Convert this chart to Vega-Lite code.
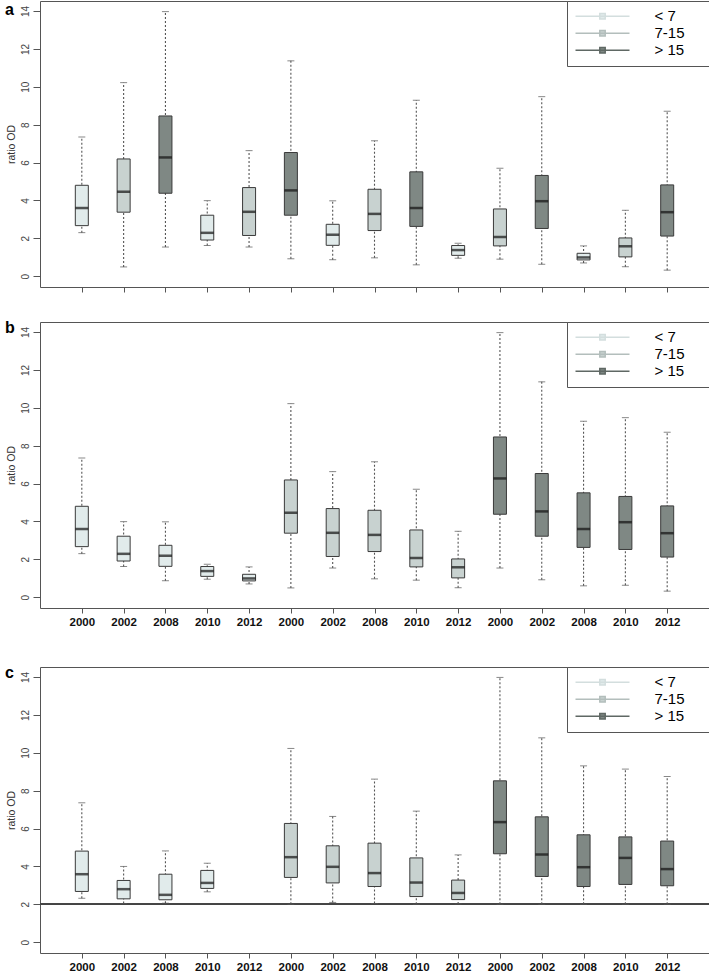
{
  "$schema": "https://vega.github.io/schema/vega-lite/v6.json",
  "background": "white",
  "padding": {"left": 4, "top": 0, "right": 0, "bottom": 0},
  "config": {
    "font": "Liberation Sans",
    "view": {"stroke": "#555", "strokeWidth": 1},
    "axisY": {"values": [0, 2, 4, 6, 8, 10, 12, 14], "domain": false, "grid": false, "tickSize": 7, "tickColor": "#555", "labelAngle": -90, "labelAlign": "center", "labelBaseline": "bottom", "labelPadding": 3, "labelFontSize": 10, "labelColor": "#444", "titleFontSize": 10.5, "titleFontWeight": "normal", "titleColor": "#333", "titlePadding": 4},
    "axisX": {"domain": false, "grid": false, "tickSize": 5, "tickColor": "#555", "labelFontSize": 11.5, "labelFontWeight": "bold", "labelColor": "#111", "labelPadding": 3, "labelAngle": 0},
    "title": {"anchor": "start", "frame": "group", "fontSize": 16, "fontWeight": "bold", "color": "#000", "baseline": "top", "dx": -35},
    "legend": {"orient": "top-right", "offset": 0, "strokeColor": "#555", "fillColor": "white", "padding": 7.5, "symbolType": "M-1,0L1,0M-0.1,-0.1L0.1,-0.1L0.1,0.1L-0.1,0.1Z", "symbolSize": 2916, "symbolStrokeWidth": 1.5, "labelFontSize": 15, "labelColor": "#000", "labelOffset": 24, "clipHeight": 15.5, "rowPadding": 1, "titleOrient": "right", "titleFontSize": 9, "titleColor": "transparent", "titleOpacity": 0, "titlePadding": 2}
  },
  "datasets": {
    "ab": [
      {"group": "< 7", "year": "2000", "lo": 2.3, "q1": 2.67, "med": 3.6, "q3": 4.8, "hi": 7.35},
      {"group": "< 7", "year": "2002", "lo": 1.62, "q1": 1.91, "med": 2.29, "q3": 3.22, "hi": 3.99},
      {"group": "< 7", "year": "2008", "lo": 0.87, "q1": 1.63, "med": 2.19, "q3": 2.74, "hi": 3.98},
      {"group": "< 7", "year": "2010", "lo": 0.95, "q1": 1.1, "med": 1.38, "q3": 1.62, "hi": 1.74},
      {"group": "< 7", "year": "2012", "lo": 0.7, "q1": 0.86, "med": 0.99, "q3": 1.21, "hi": 1.6},
      {"group": "7-15", "year": "2000", "lo": 0.49, "q1": 3.38, "med": 4.46, "q3": 6.19, "hi": 10.22},
      {"group": "7-15", "year": "2002", "lo": 1.54, "q1": 2.15, "med": 3.4, "q3": 4.68, "hi": 6.63},
      {"group": "7-15", "year": "2008", "lo": 0.97, "q1": 2.41, "med": 3.29, "q3": 4.59, "hi": 7.15},
      {"group": "7-15", "year": "2010", "lo": 0.9, "q1": 1.6, "med": 2.07, "q3": 3.55, "hi": 5.7},
      {"group": "7-15", "year": "2012", "lo": 0.5, "q1": 1.02, "med": 1.58, "q3": 2.02, "hi": 3.48},
      {"group": "> 15", "year": "2000", "lo": 1.54, "q1": 4.38, "med": 6.27, "q3": 8.46, "hi": 13.97},
      {"group": "> 15", "year": "2002", "lo": 0.92, "q1": 3.22, "med": 4.53, "q3": 6.53, "hi": 11.37},
      {"group": "> 15", "year": "2008", "lo": 0.6, "q1": 2.63, "med": 3.6, "q3": 5.51, "hi": 9.29},
      {"group": "> 15", "year": "2010", "lo": 0.63, "q1": 2.52, "med": 3.96, "q3": 5.32, "hi": 9.48},
      {"group": "> 15", "year": "2012", "lo": 0.32, "q1": 2.12, "med": 3.38, "q3": 4.82, "hi": 8.71}
    ],
    "c": [
      {"group": "< 7", "year": "2000", "lo": 2.32, "q1": 2.68, "med": 3.59, "q3": 4.81, "hi": 7.36},
      {"group": "< 7", "year": "2002", "lo": 2.04, "q1": 2.29, "med": 2.8, "q3": 3.26, "hi": 4.0},
      {"group": "< 7", "year": "2008", "lo": 2.06, "q1": 2.24, "med": 2.5, "q3": 3.59, "hi": 4.82},
      {"group": "< 7", "year": "2010", "lo": 2.66, "q1": 2.84, "med": 3.13, "q3": 3.79, "hi": 4.17},
      {"group": "7-15", "year": "2000", "lo": 2.0, "q1": 3.42, "med": 4.49, "q3": 6.27, "hi": 10.23},
      {"group": "7-15", "year": "2002", "lo": 2.1, "q1": 3.13, "med": 3.98, "q3": 5.09, "hi": 6.64},
      {"group": "7-15", "year": "2008", "lo": 2.04, "q1": 2.94, "med": 3.65, "q3": 5.23, "hi": 8.61},
      {"group": "7-15", "year": "2010", "lo": 2.0, "q1": 2.41, "med": 3.15, "q3": 4.45, "hi": 6.92},
      {"group": "7-15", "year": "2012", "lo": 2.02, "q1": 2.25, "med": 2.6, "q3": 3.28, "hi": 4.61},
      {"group": "> 15", "year": "2000", "lo": 2.0, "q1": 4.67, "med": 6.34, "q3": 8.52, "hi": 13.98},
      {"group": "> 15", "year": "2002", "lo": 2.0, "q1": 3.47, "med": 4.63, "q3": 6.62, "hi": 10.79},
      {"group": "> 15", "year": "2008", "lo": 2.0, "q1": 2.94, "med": 3.96, "q3": 5.67, "hi": 9.31},
      {"group": "> 15", "year": "2010", "lo": 2.0, "q1": 3.05, "med": 4.45, "q3": 5.56, "hi": 9.14},
      {"group": "> 15", "year": "2012", "lo": 2.0, "q1": 2.98, "med": 3.86, "q3": 5.34, "hi": 8.75}
    ]
  },
  "resolve": {"scale": {"x": "independent", "fill": "independent", "stroke": "independent"}, "legend": {"fill": "independent", "stroke": "independent"}},
  "spacing": 36,
  "vconcat": [
    {
      "resolve": {"scale": {"x": "independent", "fill": "independent", "stroke": "independent"}, "legend": {"fill": "independent", "stroke": "independent"}},
      "spacing": 26,
      "vconcat": [
        {
          "width": 669, "height": 286,
          "title": {"text": "a", "offset": -17},
          "data": {"name": "ab"},
          "transform": [{"calculate": "datum.year + '_' + datum.group", "as": "key"}],
          "encoding": {
            "x": {"field": "key", "type": "nominal", "title": null,
              "scale": {"type": "point", "padding": 1.09, "domain": ["2000_< 7", "2000_7-15", "2000_> 15", "2002_< 7", "2002_7-15", "2002_> 15", "2008_< 7", "2008_7-15", "2008_> 15", "2010_< 7", "2010_7-15", "2010_> 15", "2012_< 7", "2012_7-15", "2012_> 15"]},
              "axis": {"labels": false}}
          },
          "layer": [
            {"mark": {"type": "rule", "strokeDash": [2, 2], "color": "#555", "strokeWidth": 1.1},
             "encoding": {"y": {"field": "lo", "type": "quantitative", "title": "ratio OD", "scale": {"domain": [-0.57, 14.53], "nice": false, "zero": false}}, "y2": {"field": "hi"}}},
            {"mark": {"type": "tick", "color": "#555", "size": 7, "thickness": 1},
             "encoding": {"y": {"field": "lo", "type": "quantitative", "title": "ratio OD", "scale": {"domain": [-0.57, 14.53], "nice": false, "zero": false}}}},
            {"mark": {"type": "tick", "color": "#555", "size": 7, "thickness": 1},
             "encoding": {"y": {"field": "hi", "type": "quantitative", "title": "ratio OD", "scale": {"domain": [-0.57, 14.53], "nice": false, "zero": false}}}},
            {"mark": {"type": "bar", "size": 13, "strokeWidth": 0},
             "encoding": {"y": {"field": "q1", "type": "quantitative", "title": "ratio OD", "scale": {"domain": [-0.57, 14.53], "nice": false, "zero": false}}, "y2": {"field": "q3"},
               "fill": {"field": "group", "type": "nominal", "title": "MM", "scale": {"domain": ["< 7", "7-15", "> 15"], "range": ["#e1ebeb", "#c8d2d0", "#7f8884"]}}}},
            {"mark": {"type": "rule", "strokeWidth": 1.5},
             "encoding": {"y": {"field": "hi", "type": "quantitative", "title": "ratio OD", "scale": {"domain": [-0.57, 14.53], "nice": false, "zero": false}}, "y2": {"field": "hi"},
               "stroke": {"field": "group", "type": "nominal", "title": "MM", "scale": {"domain": ["< 7", "7-15", "> 15"], "range": ["#d3dede", "#b3bebc", "#5f6864"]}}}},
            {"mark": {"type": "bar", "size": 13, "fill": "transparent", "stroke": "#3a3a3a", "strokeWidth": 1},
             "encoding": {"y": {"field": "q1", "type": "quantitative", "title": "ratio OD", "scale": {"domain": [-0.57, 14.53], "nice": false, "zero": false}}, "y2": {"field": "q3"}}},
            {"mark": {"type": "tick", "color": "#111", "size": 13, "thickness": 2.5},
             "encoding": {"y": {"field": "med", "type": "quantitative", "title": "ratio OD", "scale": {"domain": [-0.57, 14.53], "nice": false, "zero": false}}}}
          ]
        },
        {
          "width": 669, "height": 286,
          "title": {"text": "b", "offset": -14},
          "data": {"name": "ab"},
          "transform": [{"calculate": "datum.group + '_' + datum.year", "as": "key"}],
          "encoding": {
            "x": {"field": "key", "type": "nominal", "title": null,
              "scale": {"type": "point", "padding": 1.09, "domain": ["< 7_2000", "< 7_2002", "< 7_2008", "< 7_2010", "< 7_2012", "7-15_2000", "7-15_2002", "7-15_2008", "7-15_2010", "7-15_2012", "> 15_2000", "> 15_2002", "> 15_2008", "> 15_2010", "> 15_2012"]},
              "axis": {"labelExpr": "split(datum.label, '_')[1]"}}
          },
          "layer": [
            {"mark": {"type": "rule", "strokeDash": [2, 2], "color": "#555", "strokeWidth": 1.1},
             "encoding": {"y": {"field": "lo", "type": "quantitative", "title": "ratio OD", "scale": {"domain": [-0.57, 14.53], "nice": false, "zero": false}}, "y2": {"field": "hi"}}},
            {"mark": {"type": "tick", "color": "#555", "size": 7, "thickness": 1},
             "encoding": {"y": {"field": "lo", "type": "quantitative", "title": "ratio OD", "scale": {"domain": [-0.57, 14.53], "nice": false, "zero": false}}}},
            {"mark": {"type": "tick", "color": "#555", "size": 7, "thickness": 1},
             "encoding": {"y": {"field": "hi", "type": "quantitative", "title": "ratio OD", "scale": {"domain": [-0.57, 14.53], "nice": false, "zero": false}}}},
            {"mark": {"type": "bar", "size": 13, "strokeWidth": 0},
             "encoding": {"y": {"field": "q1", "type": "quantitative", "title": "ratio OD", "scale": {"domain": [-0.57, 14.53], "nice": false, "zero": false}}, "y2": {"field": "q3"},
               "fill": {"field": "group", "type": "nominal", "title": "MM", "scale": {"domain": ["< 7", "7-15", "> 15"], "range": ["#e1ebeb", "#c8d2d0", "#7f8884"]}}}},
            {"mark": {"type": "rule", "strokeWidth": 1.5},
             "encoding": {"y": {"field": "hi", "type": "quantitative", "title": "ratio OD", "scale": {"domain": [-0.57, 14.53], "nice": false, "zero": false}}, "y2": {"field": "hi"},
               "stroke": {"field": "group", "type": "nominal", "title": "MM", "scale": {"domain": ["< 7", "7-15", "> 15"], "range": ["#d3dede", "#b3bebc", "#5f6864"]}}}},
            {"mark": {"type": "bar", "size": 13, "fill": "transparent", "stroke": "#3a3a3a", "strokeWidth": 1},
             "encoding": {"y": {"field": "q1", "type": "quantitative", "title": "ratio OD", "scale": {"domain": [-0.57, 14.53], "nice": false, "zero": false}}, "y2": {"field": "q3"}}},
            {"mark": {"type": "tick", "color": "#111", "size": 13, "thickness": 2.5},
             "encoding": {"y": {"field": "med", "type": "quantitative", "title": "ratio OD", "scale": {"domain": [-0.57, 14.53], "nice": false, "zero": false}}}}
          ]
        }
      ]
    },
    {
      "width": 669, "height": 286,
      "title": {"text": "c", "offset": -14},
      "data": {"name": "c"},
      "transform": [{"calculate": "datum.group + '_' + datum.year", "as": "key"}],
      "layer": [
        {"mark": {"type": "rule", "color": "#444", "strokeWidth": 1.2},
         "encoding": {"y": {"datum": 2, "type": "quantitative", "title": "ratio OD", "scale": {"domain": [-0.57, 14.53], "nice": false, "zero": false}}}},
        {
          "encoding": {
            "x": {"field": "key", "type": "nominal", "title": null,
              "scale": {"type": "point", "padding": 1.09, "domain": ["< 7_2000", "< 7_2002", "< 7_2008", "< 7_2010", "< 7_2012", "7-15_2000", "7-15_2002", "7-15_2008", "7-15_2010", "7-15_2012", "> 15_2000", "> 15_2002", "> 15_2008", "> 15_2010", "> 15_2012"]},
              "axis": {"labelExpr": "split(datum.label, '_')[1]"}}
          },
          "layer": [
            {"mark": {"type": "rule", "strokeDash": [2, 2], "color": "#555", "strokeWidth": 1.1},
             "encoding": {"y": {"field": "lo", "type": "quantitative", "title": "ratio OD", "scale": {"domain": [-0.57, 14.53], "nice": false, "zero": false}}, "y2": {"field": "hi"}}},
            {"mark": {"type": "tick", "color": "#555", "size": 7, "thickness": 1},
             "encoding": {"y": {"field": "lo", "type": "quantitative", "title": "ratio OD", "scale": {"domain": [-0.57, 14.53], "nice": false, "zero": false}}}},
            {"mark": {"type": "tick", "color": "#555", "size": 7, "thickness": 1},
             "encoding": {"y": {"field": "hi", "type": "quantitative", "title": "ratio OD", "scale": {"domain": [-0.57, 14.53], "nice": false, "zero": false}}}},
            {"mark": {"type": "bar", "size": 13, "strokeWidth": 0},
             "encoding": {"y": {"field": "q1", "type": "quantitative", "title": "ratio OD", "scale": {"domain": [-0.57, 14.53], "nice": false, "zero": false}}, "y2": {"field": "q3"},
               "fill": {"field": "group", "type": "nominal", "title": "MM", "scale": {"domain": ["< 7", "7-15", "> 15"], "range": ["#e1ebeb", "#c8d2d0", "#7f8884"]}}}},
            {"mark": {"type": "rule", "strokeWidth": 1.5},
             "encoding": {"y": {"field": "hi", "type": "quantitative", "title": "ratio OD", "scale": {"domain": [-0.57, 14.53], "nice": false, "zero": false}}, "y2": {"field": "hi"},
               "stroke": {"field": "group", "type": "nominal", "title": "MM", "scale": {"domain": ["< 7", "7-15", "> 15"], "range": ["#d3dede", "#b3bebc", "#5f6864"]}}}},
            {"mark": {"type": "bar", "size": 13, "fill": "transparent", "stroke": "#3a3a3a", "strokeWidth": 1},
             "encoding": {"y": {"field": "q1", "type": "quantitative", "title": "ratio OD", "scale": {"domain": [-0.57, 14.53], "nice": false, "zero": false}}, "y2": {"field": "q3"}}},
            {"mark": {"type": "tick", "color": "#111", "size": 13, "thickness": 2.5},
             "encoding": {"y": {"field": "med", "type": "quantitative", "title": "ratio OD", "scale": {"domain": [-0.57, 14.53], "nice": false, "zero": false}}}}
          ]
        }
      ]
    }
  ]
}
